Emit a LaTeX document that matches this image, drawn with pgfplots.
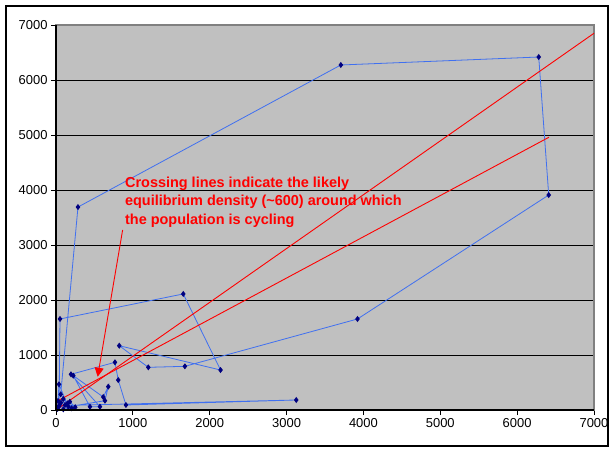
\documentclass[border=0pt]{standalone}
\usepackage{fontspec}
\setmainfont{Liberation Sans}
\usepackage{pgfplots}
\pgfplotsset{compat=1.18}
\usetikzlibrary{arrows.meta}

\definecolor{plotgray}{HTML}{C0C0C0}
\definecolor{axisgray}{HTML}{808080}
\definecolor{serblue}{HTML}{4070F0}
\definecolor{navy}{HTML}{000080}
\definecolor{pured}{HTML}{FF0000}

\begin{document}
\begin{tikzpicture}
  \useasboundingbox (0,0) rectangle (614bp,451bp);
  \draw[black, line width=1.5bp] (6bp,5bp) rectangle (608bp,445bp);
  \begin{axis}[
    at={(56bp,41bp)}, anchor=south west,
    scale only axis, width=538bp, height=385bp,
    xmin=0, xmax=7000, ymin=0, ymax=7000,
    xtick={0,1000,...,7000}, ytick={0,1000,...,7000},
    ymajorgrids=true,
    grid style={black, line width=0.8bp},
    axis background/.style={fill=plotgray},
    axis line style={draw=axisgray, line width=1.2bp},
    tick align=outside, xtick pos=left, ytick pos=left,
    major tick length=5bp,
    tick style={black, line width=0.8bp},
    ticklabel style={font=\fontsize{13}{15}\selectfont},
    /pgf/number format/assume math mode=true,
    /pgf/number format/1000 sep={},
    clip=false,
    after end axis/.code={
      \draw[black, line width=1.2bp] (rel axis cs:0,1) -- (rel axis cs:0,0) -- (rel axis cs:1,0);
    },
  ]
    % population, N(t) against N(t+1)
    \addplot[color=serblue, line width=0.8bp, mark=diamond*, mark size=2.4bp,
             mark options={draw=navy, fill=navy}]
    coordinates {
      (20,20) (117,91) (40,80) (3126,182) (910,91) (810,545) (767,867)
      (195,649) (572,60) (442,60) (225,624) (615,236) (680,424) (637,169)
      (160,60) (39,467) (26,164) (95,200) (204,31) (61,285) (286,3690)
      (3706,6273) (6281,6418) (6411,3909) (3923,1655) (1677,794) (1201,776)
      (823,1169) (2141,727) (1656,2110) (52,1655) (40,70) (150,120) (95,13)
      (250,50) (180,150) (65,133)
    };
    % trend lines
    \addplot[color=pured, line width=0.9bp] coordinates {(0,0) (7000,6850)};
    \addplot[color=pured, line width=0.9bp] coordinates {(0,150) (6415,4960)};

    \draw[pured, line width=0.9bp, -{Triangle[length=9bp, width=9bp]}]
      (axis cs:867,3273) -- (axis cs:542,605);
    % base anchor sits on the last line
    \node[anchor=base west, inner sep=0pt, align=left, text=pured,
          font=\bfseries\fontsize{14.5}{18.8}\selectfont]
      at (axis cs:897,3370)
      {Crossing lines indicate the likely\\equilibrium density (\textasciitilde600) around which\\the population is cycling};
  \end{axis}
\end{tikzpicture}
\end{document}
